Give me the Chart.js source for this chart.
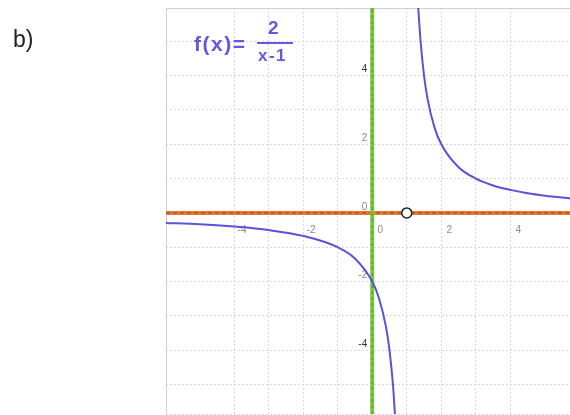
<!DOCTYPE html>
<html><head><meta charset="utf-8">
<script src="https://cdn.jsdelivr.net/npm/chart.js@4/dist/chart.umd.min.js"></script>
<style>
html,body{margin:0;padding:0;background:#fff;overflow:hidden;}
#wrap{position:relative;width:570px;height:415px;overflow:hidden;}
canvas{position:absolute;left:0;top:0;}
.lbl{position:absolute;font-family:"Liberation Sans",Arial,sans-serif;white-space:nowrap;}
#b{left:13px;top:26px;font-size:23px;color:#222;}
#fx{left:194px;top:32px;font-size:21px;font-weight:bold;letter-spacing:1.5px;color:#6458e0;}
#num{left:268px;top:17px;font-size:19px;font-weight:bold;color:#6458e0;}
#bar{position:absolute;left:257px;top:42px;width:36px;height:2px;background:#6458e0;}
#den{left:258px;top:46px;font-size:17px;font-weight:bold;letter-spacing:1.5px;color:#6458e0;}
</style></head>
<body><div id="wrap">
<canvas id="c" width="577" height="422"></canvas>
<div class="lbl" id="b">b)</div>
<div class="lbl" id="fx">f(x)=</div>
<div class="lbl" id="num">2</div>
<div id="bar"></div>
<div class="lbl" id="den">x-1</div>
</div>
<script>
// axis ranges (as seen in the picture)
const xRange = [-5.97, 5.74];
const yRange = [-5.86, 5.97];
const xTickLabels = [-4, -2, 0, 2, 4];
const yTickLabels = [-4, -2, 0, 2, 4];
// left branch of f(x)=2/(x-1)
const leftX = [-6, -5, -4, -3, -2, -1, -0.5, 0, 0.2, 0.4, 0.5, 0.6, 0.66];
const leftY = [-0.29, -0.33, -0.4, -0.5, -0.67, -1, -1.33, -2, -2.5, -3.33, -4, -5, -5.9];
// right branch
const rightX = [1.33, 1.4, 1.5, 1.6, 1.8, 2, 2.5, 3, 3.5, 4, 4.5, 5, 5.75];
const rightY = [6, 5, 4, 3.33, 2.5, 2, 1.33, 1, 0.8, 0.67, 0.57, 0.5, 0.42];
// excluded point
const holeX = [1];
const holeY = [0];

const pts = (xs, ys) => xs.map((x, i) => ({x: x, y: ys[i]}));

const frame = {
  id: 'frame',
  beforeDatasetsDraw(chart) {
    const a = chart.chartArea, ctx = chart.ctx;
    ctx.save();
    ctx.strokeStyle = '#cfcfcf';
    ctx.lineWidth = 1;
    ctx.beginPath();
    ctx.moveTo(a.left + 0.5, a.bottom);
    ctx.lineTo(a.left + 0.5, a.top + 0.5);
    ctx.lineTo(a.right, a.top + 0.5);
    ctx.stroke();
    ctx.restore();
  }
};

new Chart(document.getElementById('c'), {
  type: 'scatter',
  data: {
    datasets: [
      {data: pts(xRange, [0, 0]), showLine: true, borderColor: '#e8782c', borderWidth: 4, pointRadius: 0, order: 5},
      {data: pts(xRange, [0, 0]), showLine: true, borderColor: '#8a4a22', borderWidth: 1, borderDash: [4, 3], pointRadius: 0, order: 4},
      {data: pts([0, 0], yRange), showLine: true, borderColor: '#7cc443', borderWidth: 4, pointRadius: 0, order: 3},
      {data: pts([0, 0], yRange), showLine: true, borderColor: '#4e9a2c', borderWidth: 1, borderDash: [3, 3], pointRadius: 0, order: 2},
      {data: pts(leftX, leftY), showLine: true, borderColor: '#5a52d8', borderWidth: 2, pointRadius: 0, cubicInterpolationMode: 'monotone', order: 1},
      {data: pts(rightX, rightY), showLine: true, borderColor: '#5a52d8', borderWidth: 2, pointRadius: 0, cubicInterpolationMode: 'monotone', order: 1},
      {data: pts(holeX, holeY), showLine: false, pointRadius: 5, pointBackgroundColor: '#ffffff', pointBorderColor: '#222', pointBorderWidth: 1.5, order: 0}
    ]
  },
  options: {
    responsive: false,
    animation: false,
    devicePixelRatio: 1,
    layout: {padding: {left: 166, top: 7, right: 0, bottom: 0}},
    plugins: {legend: {display: false}, tooltip: {enabled: false}},
    scales: {
      x: {
        type: 'linear', min: xRange[0], max: xRange[1],
        position: {y: 0},
        border: {display: false, dash: [2, 2]},
        grid: {color: '#d9d9d9', lineWidth: 1, drawTicks: true, tickLength: 11, tickColor: 'rgba(0,0,0,0)'},
        ticks: {
          stepSize: 1, autoSkip: false, maxRotation: 0, padding: 0, labelOffset: 8,
          color: '#8a8a8a', font: {family: 'Liberation Sans', size: 10},
          callback: v => xTickLabels.includes(v) ? String(v) : ''
        }
      },
      y: {
        type: 'linear', min: yRange[0], max: yRange[1],
        position: {x: 0},
        border: {display: false, dash: [2, 2]},
        grid: {color: '#d9d9d9', lineWidth: 1, drawTicks: true, tickLength: 4, tickColor: 'rgba(0,0,0,0)'},
        ticks: {
          stepSize: 1, autoSkip: false, padding: 2, labelOffset: -6,
          color: ctx => (Math.abs(ctx.tick.value) === 4 ? '#333' : '#8a8a8a'),
          font: {family: 'Liberation Sans', size: 10},
          callback: v => yTickLabels.includes(v) ? String(v) + '\u2002' : ''
        }
      }
    }
  },
  plugins: [frame]
});
</script>
</body></html>
